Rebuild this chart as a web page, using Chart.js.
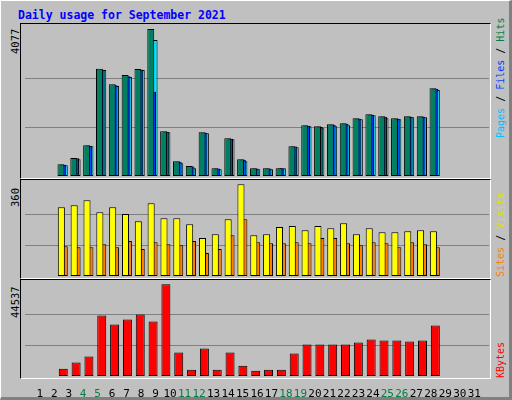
<!DOCTYPE html>
<html><head><meta charset="utf-8">
<script src="https://cdn.jsdelivr.net/npm/chart.js@4/dist/chart.umd.min.js"></script>
<style>
body{margin:0;width:512px;height:400px;overflow:hidden;background:#c0c0c0;font-family:"DejaVu Sans Mono",monospace;}
#outer{position:absolute;left:0;top:0;width:508px;height:396px;border-top:1px solid #fff;border-left:1px solid #fff;border-right:3px solid #808080;border-bottom:3px solid #808080;}
.frame{position:absolute;left:20px;width:469px;border-top:1px solid #000;border-left:1px solid #000;border-right:1px solid #fff;border-bottom:1px solid #fff;}
.c{position:absolute;left:25px;}
.t{position:absolute;white-space:nowrap;font-size:10.5px;}
.up{transform-origin:0 0;transform:rotate(-90deg);}
</style></head><body>
<div id="outer"></div>
<div class="t" style="left:18px;top:8px;color:#0000ff;font-weight:bold;font-size:11.5px">Daily usage for September 2021</div>
<div class="frame" style="top:23px;height:154px"></div>
<div class="frame" style="top:179px;height:98px"></div>
<div class="frame" style="top:279px;height:98px"></div>
<div class="c" style="top:24px"><canvas id="c1" width="464" height="152"></canvas></div>
<div class="c" style="top:180px"><canvas id="c2" width="464" height="96"></canvas></div>
<div class="c" style="top:280px"><canvas id="c3" width="464" height="118"></canvas></div>
<div class="t up" style="left:9px;top:54px">4077</div>
<div class="t up" style="left:9px;top:207px">360</div>
<div class="t up" style="left:9px;top:318px">44537</div>
<div class="t up" style="left:495px;top:138px;font-size:10px"><span style="color:#00c0ff">Pages</span> / <span style="color:#0040ff">Files</span> / <span style="color:#008040">Hits</span></div>
<div class="t up" style="left:495px;top:277px;font-size:10px"><span style="color:#ff8000">Sites</span> / <span style="color:#e0e000">Visits</span></div>
<div class="t up" style="left:495px;top:378px;font-size:10px"><span style="color:#ff0000">KBytes</span></div>
<script>
const days=Array.from({length:31},(_,i)=>i+1);
const weekend=[4,5,11,12,18,19,25,26];
const hits=[324,500,853,2974,2548,2798,2965,4077,1242,408,278,1214,213,1047,463,213,213,213,825,1408,1381,1436,1464,1603,1714,1659,1603,1659,1659,2437,null];
const files=[315,490,840,2950,2520,2770,2950,2335,1230,395,265,1200,205,1035,450,205,205,210,815,1395,1360,1420,1450,1590,1700,1640,1590,1645,1645,2420,null];
const pages=[297,463,825,2938,2493,2743,2938,3772,1214,352,213,1186,185,1019,408,185,185,213,797,1381,1325,1381,1409,1576,1687,1603,1576,1631,1631,2382,null];
const visits=[270,278,297,250,270,243,215,286,227,227,203,149,164,223,360,160,164,192,196,180,196,188,207,164,188,172,172,176,180,176,null];
const sites=[117,113,113,125,113,137,106,133,125,121,137,90,106,160,223,133,129,129,133,129,149,149,129,121,133,129,113,133,125,113,null];
const kbytes=[3575,6500,9425,29413,25025,27463,29900,26488,44537,11375,3088,13325,3088,11375,5038,2600,3088,3088,10888,15275,15275,15275,15275,16250,17713,17225,17225,16738,17225,24538,null];
const peaks=[4077,360,44537];
const tops=[4216,377,46626];
function yAxis(i){return {min:0,max:tops[i],afterFit:s=>{s.width=0;},
 afterBuildTicks:s=>{s.ticks=[{value:peaks[i]/3},{value:2*peaks[i]/3}];},
 ticks:{display:false},border:{display:false},grid:{color:'#808080',lineWidth:1,drawTicks:false}};}
function xLin(shift,show){
 const a={type:'linear',min:0.5+shift,max:31.5+shift,display:false};
 if(show){Object.assign(a,{display:true,afterFit:s=>{s.height=22;},border:{display:false},grid:{display:false},
  afterBuildTicks:s=>{s.ticks=days.map(d=>({value:d}));},
  ticks:{padding:4,maxRotation:0,autoSkip:false,font:{family:'DejaVu Sans Mono',size:11},
   color:c=>weekend.includes(c.tick.value)?'#008040':'#000'}});}
 return a;}
function mk(id,ds,i,showIdx){
 const scales={y:yAxis(i)};
 const sets=ds.map((d,k)=>{const key='x'+k;scales[key]=xLin(d.shift,k===showIdx);
  return {data:days.map((x,j)=>({x:x,y:d.vals[j]})),xAxisID:key,grouped:false,backgroundColor:d.color,borderColor:'#000',borderWidth:1,borderSkipped:false,categoryPercentage:1,barPercentage:d.w};});
 new Chart(document.getElementById(id),{type:'bar',data:{datasets:sets},
 options:{responsive:false,devicePixelRatio:1,animation:false,layout:{padding:0},plugins:{legend:{display:false},tooltip:{enabled:false}},scales}});
}
mk('c1',[{vals:hits,color:'#008060',shift:0.28,w:0.54},{vals:files,color:'#0040ff',shift:0.12,w:0.5},{vals:pages,color:'#00e0ff',shift:0,w:0.5}],0,-1);
mk('c2',[{vals:visits,color:'#ffff00',shift:0.25,w:0.55},{vals:sites,color:'#ff8000',shift:0,w:0.5}],1,-1);
mk('c3',[{vals:kbytes,color:'#ff0000',shift:0.1,w:0.7},{vals:days.map(()=>null),color:'#000',shift:0,w:0.1}],2,1);
</script></body></html>
